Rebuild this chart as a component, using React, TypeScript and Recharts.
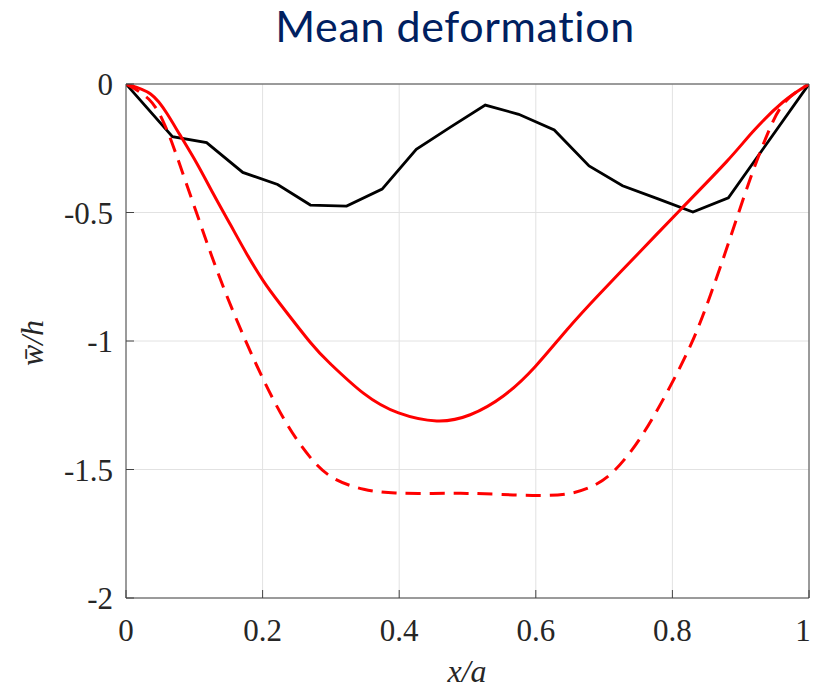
import React from "react";
import { LineChart, Line, XAxis, YAxis, CartesianGrid } from "recharts";

// tick values
const xTicks = [0, 0.2, 0.4, 0.6, 0.8, 1];
const yTicks = [0, -0.5, -1, -1.5, -2];

// black polyline (measured)
const blackX = [0, 0.068, 0.118, 0.171, 0.222, 0.27, 0.323, 0.375, 0.425, 0.475, 0.526, 0.575, 0.627, 0.678, 0.727, 0.779, 0.83, 0.882, 1];
const blackY = [0, -0.205, -0.228, -0.344, -0.391, -0.471, -0.475, -0.409, -0.254, -0.168, -0.082, -0.118, -0.179, -0.319, -0.396, -0.447, -0.498, -0.443, 0];

// solid red curve
const solidX = [0, 0.036, 0.06, 0.079, 0.104, 0.128, 0.153, 0.177, 0.201, 0.226, 0.27, 0.299, 0.348, 0.399, 0.455, 0.504, 0.553, 0.599, 0.645, 0.694, 0.755, 0.811, 0.879, 0.918, 0.962, 1];
const solidY = [0, -0.039, -0.115, -0.198, -0.31, -0.428, -0.548, -0.662, -0.766, -0.857, -1.006, -1.088, -1.204, -1.28, -1.311, -1.287, -1.213, -1.1, -0.958, -0.815, -0.646, -0.491, -0.303, -0.185, -0.07, 0];

// dashed red curve
const dashX = [0, 0.036, 0.055, 0.07, 0.087, 0.109, 0.126, 0.148, 0.175, 0.201, 0.236, 0.275, 0.304, 0.348, 0.392, 0.45, 0.499, 0.55, 0.606, 0.65, 0.684, 0.714, 0.753, 0.792, 0.831, 0.855, 0.884, 0.914, 0.943, 0.962, 1];
const dashY = [0, -0.052, -0.143, -0.246, -0.377, -0.545, -0.675, -0.83, -1.0, -1.153, -1.334, -1.477, -1.542, -1.581, -1.594, -1.593, -1.592, -1.597, -1.603, -1.598, -1.568, -1.516, -1.386, -1.204, -1.0, -0.828, -0.607, -0.361, -0.166, -0.062, 0];

const zip = (xs: number[], ys: number[]) => xs.map((x, i) => ({ x, y: ys[i] }));
const blackData = zip(blackX, blackY);
const solidData = zip(solidX, solidY);
const dashData = zip(dashX, dashY);

const AXIS = "#444444";
const TEXT = "#262626";
const serif = "'Liberation Serif', 'Times New Roman', serif";
const tickStyle = { fontFamily: serif, fontSize: 31, fill: TEXT };

// bottom tick label, kept inside the picture at the right edge
function XTick(props: any) {
    const { x, y, payload } = props;
    return (
        <text x={Math.min(x, 803)} y={y} dy="0.71em" textAnchor="middle" fontFamily={serif} fontSize={31} fill={TEXT}>
            {String(payload.value)}
        </text>
    );
}

export default function App() {
    return (
        <div style={{ position: "absolute", left: 0, top: 0, width: 813, height: 691, background: "#fff" }}>
            <LineChart width={813} height={691} margin={{ top: 83, right: 3, bottom: 0, left: 0 }}>
                <CartesianGrid stroke="#e2e2e2" strokeWidth={1} />
                <XAxis
                    type="number"
                    dataKey="x"
                    domain={[0, 1]}
                    ticks={xTicks}
                    interval={0}
                    height={93}
                    tickSize={-8}
                    tickMargin={29}
                    stroke={AXIS}
                    tick={<XTick />}
                    allowDataOverflow
                    label={() => (
                        <text x={467} y={682} textAnchor="middle" fontFamily={serif} fontStyle="italic" fontSize={32} fill={TEXT}>
                            x/a
                        </text>
                    )}
                />
                <XAxis
                    xAxisId="top"
                    orientation="top"
                    type="number"
                    dataKey="x"
                    domain={[0, 1]}
                    ticks={xTicks}
                    interval={0}
                    height={1}
                    tickSize={-8}
                    tick={false}
                    stroke={AXIS}
                    allowDataOverflow
                    label={() => (
                        <text
                            x={455}
                            y={42}
                            textAnchor="middle"
                            fontFamily="Lato, 'Open Sans', sans-serif"
                            fontSize={43}
                            letterSpacing={0.6}
                            fill="#002060"
                        >
                            Mean deformation
                        </text>
                    )}
                />
                <YAxis
                    type="number"
                    domain={[-2, 0]}
                    ticks={yTicks}
                    interval={0}
                    width={126}
                    tickSize={-8}
                    tickMargin={21}
                    stroke={AXIS}
                    tick={tickStyle}
                    allowDataOverflow
                    label={() => (
                        <text
                            x={0}
                            y={0}
                            transform="translate(43 343) rotate(-90)"
                            textAnchor="middle"
                            fontFamily={serif}
                            fontStyle="italic"
                            fontSize={32}
                            fill={TEXT}
                        >
                            w̄/h
                        </text>
                    )}
                />
                <YAxis
                    yAxisId="right"
                    orientation="right"
                    type="number"
                    domain={[-2, 0]}
                    ticks={yTicks}
                    interval={0}
                    width={1}
                    tickSize={-8}
                    tick={false}
                    stroke={AXIS}
                    allowDataOverflow
                />
                <Line data={blackData} dataKey="y" type="linear" stroke="#000000" strokeWidth={2.8} dot={false} isAnimationActive={false} />
                <Line data={solidData} dataKey="y" type="natural" stroke="#ff0000" strokeWidth={3} dot={false} isAnimationActive={false} />
                <Line
                    data={dashData}
                    dataKey="y"
                    type="basis"
                    stroke="#ff0000"
                    strokeWidth={3}
                    strokeDasharray="15 9"
                    dot={false}
                    isAnimationActive={false}
                />
            </LineChart>
        </div>
    );
}
